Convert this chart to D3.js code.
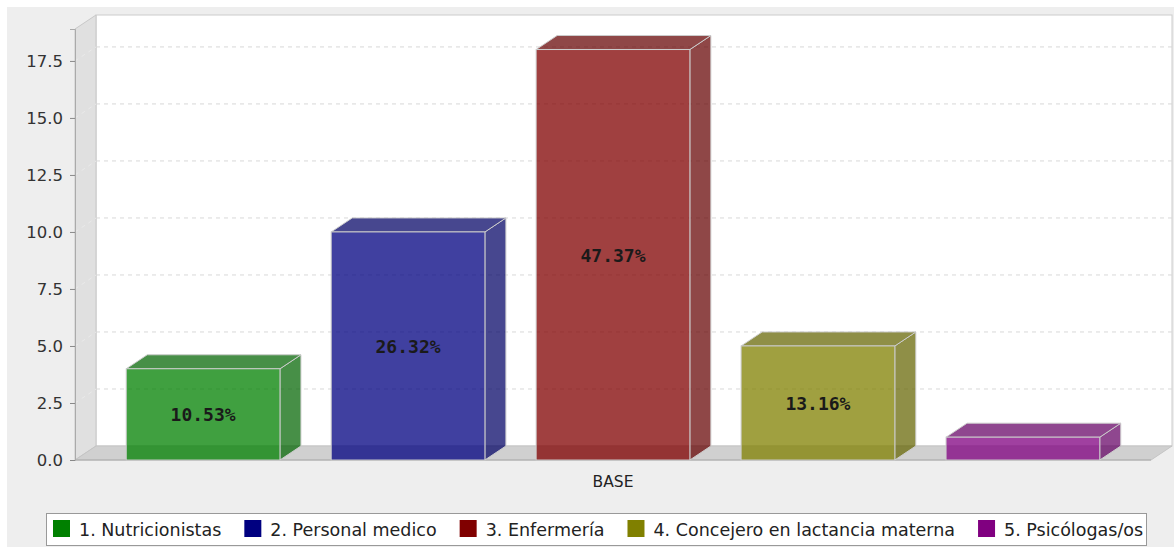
<!DOCTYPE html>
<html>
<head>
<meta charset="utf-8">
<script src="https://cdn.jsdelivr.net/npm/d3@7"></script>
<style>
  body { margin: 0; background: #fff; }
  svg { display: block; }
</style>
</head>
<body>
<svg id="chart"></svg>
<script>
let width = 1174, height = 547;

// Data
let categories = ["1. Nutricionistas", "2. Personal medico", "3. Enfermería", "4. Concejero en lactancia materna", "5. Psicólogas/os"];
let values = [4, 10, 18, 5, 1];
let colors = ["#008000", "#000080", "#800000", "#808000", "#800080"];
let yTicks = [0, 2.5, 5, 7.5, 10, 12.5, 15, 17.5];
let groupLabel = "BASE";

let total = d3.sum(values);
let font = "'DejaVu Sans', Verdana, sans-serif";

let svg = d3.select("#chart")
    .attr("width", width)
    .attr("height", height);

// background
svg.append("rect")
    .attr("x", 7).attr("y", 7)
    .attr("width", width - 7).attr("height", height - 7)
    .attr("fill", "#eeeeee");

// 3d depth
let dx = 21, dy = 14;
let pLeft = 75, pRight = 1151, pTop = 29, pBottom = 460;

let y = d3.scaleLinear()
    .domain([0, 18.9])
    .range([pBottom, pTop]);

let x = d3.scaleBand()
    .domain(categories)
    .range([pLeft, pRight])
    .paddingInner(0.25)
    .paddingOuter(0.25);

// back wall
svg.append("rect")
    .attr("x", pLeft + dx).attr("y", pTop - dy)
    .attr("width", pRight - pLeft).attr("height", pBottom - pTop)
    .attr("fill", "#ffffff")
    .attr("stroke", "#cccccc");

// left wall
svg.append("path")
    .attr("d", `M${pLeft},${pTop} L${pLeft + dx},${pTop - dy} L${pLeft + dx},${pBottom - dy} L${pLeft},${pBottom} Z`)
    .attr("fill", "#e0e0e0")
    .attr("stroke", "#c8c8c8");

// floor
svg.append("path")
    .attr("d", `M${pLeft},${pBottom} L${pLeft + dx},${pBottom - dy} L${pRight + dx},${pBottom - dy} L${pRight},${pBottom} Z`)
    .attr("fill", "#d0d0d0")
    .attr("stroke", "#c4c4c4");

// gridlines on back wall + diagonal on left wall
let grid = svg.append("g");
yTicks.filter(d => d > 0).forEach(t => {
    grid.append("line")
        .attr("x1", pLeft + dx).attr("x2", pRight + dx)
        .attr("y1", y(t) - dy).attr("y2", y(t) - dy)
        .attr("stroke", "#d8d8d8")
        .attr("stroke-dasharray", "4,4");
    grid.append("line")
        .attr("x1", pLeft).attr("x2", pLeft + dx)
        .attr("y1", y(t)).attr("y2", y(t) - dy)
        .attr("stroke", "#eaeaea")
        .attr("stroke-dasharray", "4,4");
});

// y axis
let yAxis = svg.append("g")
    .attr("transform", `translate(${pLeft},0)`)
    .call(d3.axisLeft(y).tickValues(yTicks).tickFormat(d3.format(".1f")).tickSize(5).tickPadding(7));
yAxis.select(".domain").attr("stroke", "#aaaaaa");
yAxis.selectAll(".tick line").attr("stroke", "#888888");
yAxis.selectAll("text")
    .attr("fill", "#333333")
    .style("font-family", font)
    .style("font-size", "16.5px");

// bottom front edge
svg.append("line")
    .attr("x1", pLeft).attr("x2", pRight)
    .attr("y1", pBottom).attr("y2", pBottom)
    .attr("stroke", "#aaaaaa");

// bars
let bars = svg.append("g")
    .selectAll("g")
    .data(values)
    .enter()
    .append("g");

bars.each(function (d, i) {
    let g = d3.select(this);
    let x0 = x(categories[i]), w = x.bandwidth();
    let y0 = y(d), y1 = y(0);
    let base = d3.color(colors[i]);
    let dark = base.darker(0.7);
    // side
    g.append("path")
        .attr("d", `M${x0 + w},${y0} L${x0 + w + dx},${y0 - dy} L${x0 + w + dx},${y1 - dy} L${x0 + w},${y1} Z`)
        .attr("fill", dark)
        .attr("fill-opacity", 0.72)
        .attr("stroke", "#cccccc");
    // top
    g.append("path")
        .attr("d", `M${x0},${y0} L${x0 + dx},${y0 - dy} L${x0 + w + dx},${y0 - dy} L${x0 + w},${y0} Z`)
        .attr("fill", dark)
        .attr("fill-opacity", 0.72)
        .attr("stroke", "#cccccc");
    // front
    g.append("rect")
        .attr("x", x0).attr("y", y0)
        .attr("width", w).attr("height", y1 - y0)
        .attr("fill", base)
        .attr("fill-opacity", 0.75)
        .attr("stroke", "#cccccc");
    // label
    g.append("text")
        .attr("x", x0 + w / 2)
        .attr("y", (y0 + y1) / 2 + 7)
        .attr("text-anchor", "middle")
        .style("font-family", "'DejaVu Sans Mono', monospace")
        .style("font-weight", "bold")
        .style("font-size", "18px")
        .attr("fill", "#1a1a1a")
        .text(d / total >= 0.05 ? (d / total * 100).toFixed(2) + "%" : "");
});

// category label
svg.append("text")
    .attr("x", (pLeft + pRight) / 2)
    .attr("y", 487)
    .attr("text-anchor", "middle")
    .attr("fill", "#222222")
    .style("font-family", font)
    .style("font-size", "15.5px")
    .text(groupLabel);

// Legend
let legend = svg.append("g");
legend.append("rect")
    .attr("x", 46.5).attr("y", 513.5)
    .attr("width", 1100).attr("height", 32)
    .attr("fill", "#ffffff")
    .attr("stroke", "#999999");

let lx = 53;
categories.forEach((c, i) => {
    let item = legend.append("g").attr("transform", `translate(${lx},0)`);
    item.append("rect")
        .attr("x", 0).attr("y", 520)
        .attr("width", 17).attr("height", 17)
        .attr("fill", colors[i]);
    let t = item.append("text")
        .attr("x", 26).attr("y", 536)
        .attr("fill", "#222222")
        .style("font-family", font)
        .style("font-size", "17.5px")
        .text(c);
    lx += 26 + t.node().getComputedTextLength() + 23;
});
</script>
</body>
</html>
